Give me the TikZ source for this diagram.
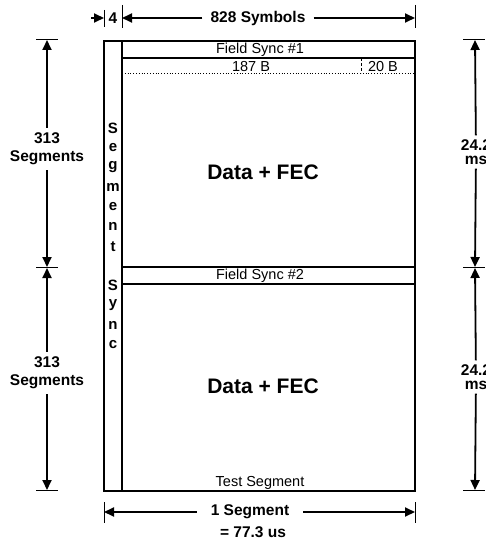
\documentclass[tikz,border=0pt]{standalone}
\usepackage{fontspec}
\setmainfont{Liberation Sans}
\usetikzlibrary{arrows.meta,positioning}

\begin{document}
\begin{tikzpicture}[x=1pt,y=-1pt,
    frame/.style={line width=1.3pt},
    dim/.style={line width=1.8pt,-{Triangle[length=10pt,width=9pt]}},
    tick/.style={line width=1pt},
    lbl/.style={font=\bfseries\fontsize{15.5}{18}\selectfont, align=center, inner sep=2pt},
    txt/.style={font=\fontsize{14.5}{17}\selectfont, inner sep=1pt},
    big/.style={font=\bfseries\fontsize{21}{25}\selectfont},
    sync/.style={font=\bfseries\fontsize{15}{18}\selectfont, inner sep=0pt}]
        \useasboundingbox (0,0) rectangle (485,543);

        % frame of the data field
        \draw[frame] (104,41) rectangle (415,491);
        \draw[frame] (122,41) -- (122,491);
        \draw[frame] (122,58) -- (415,58);
        \draw[frame] (122,267) -- (415,267);
        \draw[frame] (122,284) -- (415,284);
        \draw[dotted, thick] (122,73) -- (415,73);
        \draw[densely dashed] (361,58) -- (361,73);

        \node[txt] (fsyncA) at (260,50) {Field Sync \#1};
        \node[txt, anchor=base] (bytesA) at (251,71) {187 B};
        \node[txt, anchor=base] (bytesB) at (383,71) {20 B};
        \node[txt] (fsyncB) at (260,276) {Field Sync \#2};
        \node[txt] (testseg) at (260,483) {Test Segment};
        \node[big] (dataA) at (263,172) {Data + FEC};
        \node[big] (dataB) at (263,386) {Data + FEC};

        \foreach \ch/\k in {S/0,e/1,g/2,m/3,e/4,n/5,t/6,S/8,y/9,n/10,c/11}
            \node[sync] (ss\k) at (113,{128+19.7*\k}) {\ch};

        % top dimensions
        \draw[tick] (104,10) -- (104,27);
        \draw[tick] (122,5) -- (122,28);
        \draw[tick] (415,5) -- (415,28);
        \coordinate (fourL) at (91,18);
        \coordinate (fourR) at (104,18);
        \coordinate (symL) at (122,18);
        \coordinate (symR) at (415,18);
        \node[lbl, inner sep=0pt] (four) at (113,18) {4};
        \draw[dim] (fourL) -- (fourR);
        \node[lbl, inner xsep=8pt] (symbols) at (258,18) {828 Symbols};
        \draw[dim] (symbols) -- (symL);
        \draw[dim] (symbols) -- (symR);

        % left dimensions
        \draw[tick] (36,40) -- (58,40);
        \draw[tick] (36,267) -- (58,267);
        \draw[tick] (36,490) -- (58,490);
        \coordinate (segTop) at (47,40);
        \coordinate (segMidA) at (47,267);
        \coordinate (segMidB) at (47,268);
        \coordinate (segBot) at (47,490);
        \node[lbl, inner ysep=5pt] (segA) at (47,149) {313\\Segments};
        \node[lbl, inner ysep=5pt] (segB) at (47,373) {313\\Segments};
        \draw[dim] (segA) -- (segTop);
        \draw[dim] (segA) -- (segMidA);
        \draw[dim] (segB) -- (segMidB);
        \draw[dim] (segB) -- (segBot);

        % right dimensions
        \draw[tick] (463,40) -- (485,40);
        \draw[tick] (463,267) -- (485,267);
        \draw[tick] (463,490) -- (485,490);
        \coordinate (msTop) at (475,40);
        \coordinate (msMidA) at (475,267);
        \coordinate (msMidB) at (475,268);
        \coordinate (msBot) at (475,490);
        \node[lbl, font=\bfseries\fontsize{15.5}{14}\selectfont, inner ysep=4pt] (msA) at (476,152) {24.2\\ms};
        \node[lbl, font=\bfseries\fontsize{15.5}{14}\selectfont, inner ysep=4pt] (msB) at (476,377) {24.2\\ms};
        \draw[dim] (msA) -- (msTop);
        \draw[dim] (msA) -- (msMidA);
        \draw[dim] (msB) -- (msMidB);
        \draw[dim] (msB) -- (msBot);

        % bottom dimension
        \draw[tick] (104,502) -- (104,523);
        \draw[tick] (415,502) -- (415,523);
        \coordinate (oneL) at (104,512);
        \coordinate (oneR) at (415,512);
        \node[lbl, inner xsep=14pt] (oneseg) at (250,512) {1 Segment};
        \node[lbl] (period) at (253,532) {= 77.3 us};
        \draw[dim] (oneseg) -- (oneL);
        \draw[dim] (oneseg) -- (oneR);
\end{tikzpicture}
\end{document}
